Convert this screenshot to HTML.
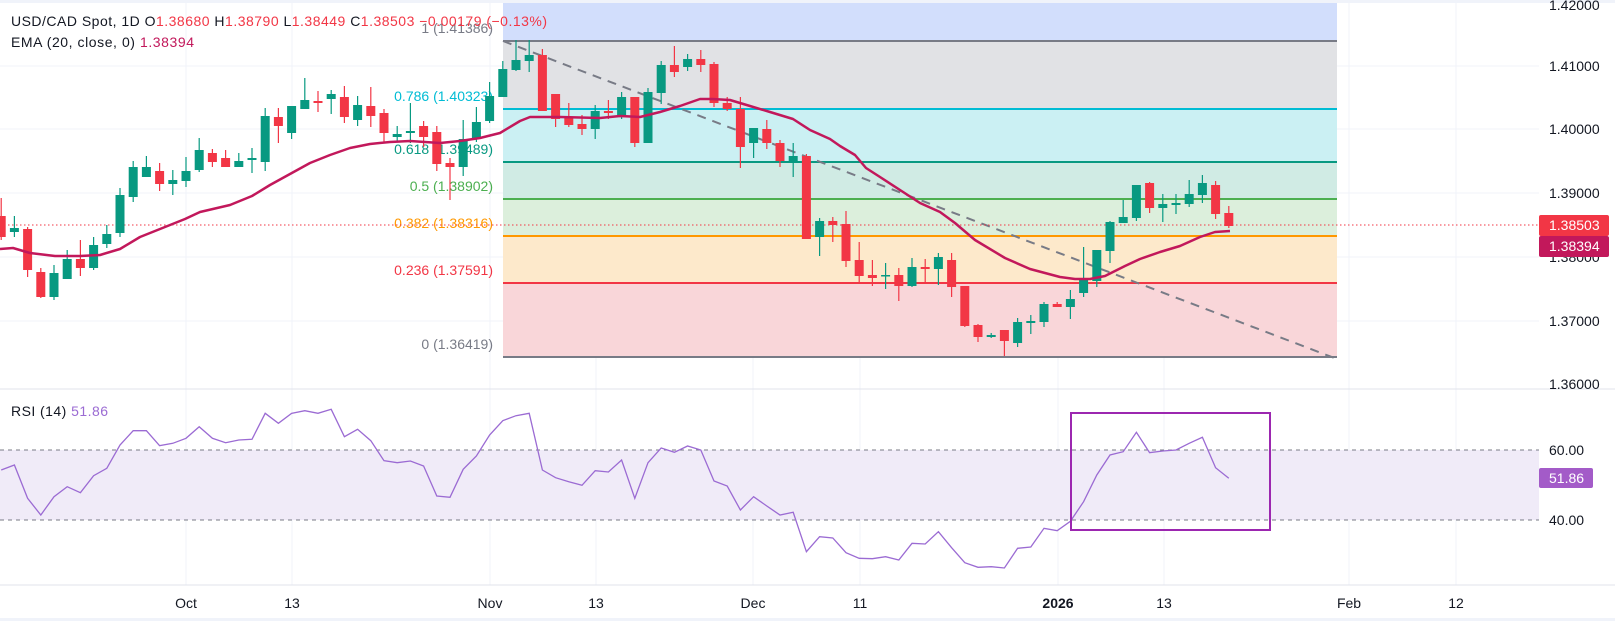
<!DOCTYPE html>
<html><head><meta charset="utf-8"><style>
html,body{margin:0;padding:0;background:#fff;}
svg{display:block;font-family:"Liberation Sans",sans-serif;}
</style></head><body>
<svg id="c" width="1615" height="621" viewBox="0 0 1615 621" xmlns="http://www.w3.org/2000/svg">
<rect x="0" y="0" width="1615" height="621" fill="#fff"/>
<rect x="0" y="0" width="1615" height="3" fill="#f0f3fa"/>
<g id="grid" stroke="#f0f3fa" stroke-width="1"></g>
<rect x="503" y="3" width="834" height="38" fill="#d2defc"/>
<rect x="503" y="41" width="834" height="68" fill="#e1e2e5"/>
<rect x="503" y="109" width="834" height="53" fill="#cbf0f3"/>
<rect x="503" y="162" width="834" height="37" fill="#d0ebe4"/>
<rect x="503" y="199" width="834" height="37" fill="#dcefdc"/>
<rect x="503" y="236" width="834" height="47" fill="#fde9cb"/>
<rect x="503" y="283" width="834" height="74" fill="#f9d6d9"/>
<g stroke-width="2">
<line x1="503" y1="41" x2="1337" y2="41" stroke="#787b86"/>
<line x1="503" y1="109" x2="1337" y2="109" stroke="#00bcd4"/>
<line x1="503" y1="162" x2="1337" y2="162" stroke="#089981"/>
<line x1="503" y1="199" x2="1337" y2="199" stroke="#4caf50"/>
<line x1="503" y1="236" x2="1337" y2="236" stroke="#ff9800"/>
<line x1="503" y1="283" x2="1337" y2="283" stroke="#f23645"/>
<line x1="503" y1="357" x2="1337" y2="357" stroke="#787b86"/>
</g>
<g font-size="14" text-anchor="end">
<text x="493" y="33" fill="#787b86">1 (1.41386)</text>
<text x="493" y="101" fill="#00bcd4">0.786 (1.40323)</text>
<text x="493" y="154" fill="#089981">0.618 (1.39489)</text>
<text x="493" y="191" fill="#4caf50">0.5 (1.38902)</text>
<text x="493" y="228" fill="#ff9800">0.382 (1.38316)</text>
<text x="493" y="275" fill="#f23645">0.236 (1.37591)</text>
<text x="493" y="349" fill="#787b86">0 (1.36419)</text>
</g>
<line x1="503" y1="41" x2="1337" y2="359" stroke="#787b86" stroke-width="2" stroke-dasharray="9,7"/>
<line x1="0" y1="225" x2="1539" y2="225" stroke="#f23645" stroke-width="1" stroke-dasharray="1.5,2.5"/>
<g id="candles"></g>
<polyline id="ema" fill="none" stroke="#c2185b" stroke-width="2.5" stroke-linejoin="round"/>
<line x1="0" y1="389" x2="1615" y2="389" stroke="#e0e3eb" stroke-width="1"/>
<line x1="0" y1="585" x2="1615" y2="585" stroke="#e0e3eb" stroke-width="1"/>
<rect x="0" y="618" width="1615" height="3" fill="#f0f3fa"/>
<rect x="0" y="450" width="1539" height="70" fill="#f0ebf8"/>
<line x1="0" y1="450" x2="1539" y2="450" stroke="#787b86" stroke-dasharray="4,4"/>
<line x1="0" y1="520" x2="1539" y2="520" stroke="#787b86" stroke-dasharray="4,4"/>
<polyline id="rsi" fill="none" stroke="#9b6bd3" stroke-width="1.3"/>
<rect x="1071" y="413" width="199" height="117" fill="none" stroke="#9c27b0" stroke-width="2"/>
<g font-size="14" fill="#131722">
<text x="1549" y="10">1.42000</text>
<text x="1549" y="71">1.41000</text>
<text x="1549" y="134">1.40000</text>
<text x="1549" y="198">1.39000</text>
<text x="1549" y="262">1.38000</text>
<text x="1549" y="326">1.37000</text>
<text x="1549" y="389">1.36000</text>
<text x="1549" y="455">60.00</text>
<text x="1549" y="525">40.00</text>
</g>
<rect x="1539" y="215" width="70" height="21" fill="#f23645" rx="2"/>
<text x="1549" y="230" font-size="14" fill="#fff">1.38503</text>
<rect x="1539" y="236" width="70" height="21" fill="#c2185b" rx="2"/>
<text x="1549" y="251" font-size="14" fill="#fff">1.38394</text>
<rect x="1539" y="468" width="54" height="20" fill="#a35bc8" rx="2"/>
<text x="1549" y="483" font-size="14" fill="#fff">51.86</text>
<g font-size="14" fill="#131722" text-anchor="middle">
<text x="186" y="608">Oct</text>
<text x="292" y="608">13</text>
<text x="490" y="608">Nov</text>
<text x="596" y="608">13</text>
<text x="753" y="608">Dec</text>
<text x="860" y="608">11</text>
<text x="1058" y="608" font-weight="bold">2026</text>
<text x="1164" y="608">13</text>
<text x="1349" y="608">Feb</text>
<text x="1456" y="608">12</text>
</g>
<g font-size="14" xml:space="preserve" style="white-space:pre">
<text x="11" y="26" fill="#131722" textLength="536" lengthAdjust="spacing">USD/CAD Spot, 1D  O<tspan fill="#f23645">1.38680</tspan>  H<tspan fill="#f23645">1.38790</tspan>  L<tspan fill="#f23645">1.38449</tspan>  C<tspan fill="#f23645">1.38503</tspan>  <tspan fill="#f23645">−0.00179 (−0.13%)</tspan></text>
<text x="11" y="47" fill="#131722" textLength="183" lengthAdjust="spacing">EMA (20, close, 0)  <tspan fill="#c2185b">1.38394</tspan></text>
<text x="11" y="416" fill="#131722" textLength="97" lengthAdjust="spacing">RSI (14)  <tspan fill="#9b6bd3">51.86</tspan></text>
</g>
</svg>
<script>
(function(){
var NS="http://www.w3.org/2000/svg";
function X(i){return 186+13.2*(i-14);}
var g=document.getElementById('grid');
[66,129,193,257,321].forEach(function(y){var l=document.createElementNS(NS,'line');l.setAttribute('x1',0);l.setAttribute('x2',1539);l.setAttribute('y1',y);l.setAttribute('y2',y);g.appendChild(l);});
[186,292,490,596,753,860,1058,1164,1349,1456].forEach(function(x){var l=document.createElementNS(NS,'line');l.setAttribute('x1',x);l.setAttribute('x2',x);l.setAttribute('y1',3);l.setAttribute('y2',585);g.appendChild(l);});
var C=[
['r',216,237,198,240],['g',228,232,216,237],['r',229,270,227,277],['r',272,297,268,298],['g',273,297,265,300],
['g',259,279,250,279],['r',259,268,240,276],['g',245,268,237,270],['g',234,244,225,248],['g',195,233,188,237],
['g',167,197,161,202],['g',167,177,156,177],['r',171,184,163,191],['g',180,184,170,195],['g',171,181,157,187],
['g',150,170,138,172],['r',153,162,149,167],['r',158,167,150,167],['g',161,167,153,167],['g',158,160,148,173],
['g',116,162,108,171],['r',117,126,108,143],['g',106,133,106,139],['g',100,109,78,109],['r',101,103,91,112],
['g',94,99,90,114],['r',97,117,86,123],['g',105,120,96,126],['r',106,116,87,127],['r',113,133,109,142],
['g',134,137,126,142],['g',131,133,103,143],['r',126,137,121,147],['r',132,164,126,171],['r',163,167,158,200],
['g',139,167,120,176],['g',122,139,107,142],['g',96,121,82,123],['g',69,97,61,97],['g',60,70,40,71],
['g',55,61,40,72],['r',55,111,49,111],['r',94,119,94,127],['r',118,125,103,127],['r',124,129,115,135],
['g',111,129,105,139],['r',111,113,100,119],['g',97,117,92,119],['r',97,143,97,147],['g',92,143,88,143],
['g',65,93,61,104],['r',65,72,46,77],['g',59,67,54,71],['r',59,65,50,72],['r',64,103,62,107],
['r',103,109,97,111],['r',109,147,97,168],['g',128,143,128,158],['r',129,143,120,149],['r',143,161,140,167],
['g',156,162,143,177],['r',156,239,154,239],['g',221,237,218,256],['r',221,225,217,242],['r',224,261,211,267],
['r',260,276,242,282],['r',275,278,260,286],['g',275,276,263,289],['r',275,286,268,301],['g',267,286,258,287],
['r',267,269,259,282],['g',257,269,253,285],['r',260,287,253,297],['r',286,326,286,327],['r',325,337,324,342],
['g',335,337,333,338],['r',330,341,330,356],['g',322,343,318,347],['g',321,323,315,334],['g',304,322,302,327],
['r',304,307,302,307],['g',299,307,290,319],['g',280,293,247,297],['g',250,281,250,287],['g',222,251,221,263],
['g',217,223,200,223],['g',185,218,185,221],['r',183,208,182,213],['g',204,208,194,222],['g',203,205,194,214],
['g',194,204,180,207],['g',183,195,175,203],['r',185,214,181,219],['r',213,226,206,228]];
var cg=document.getElementById('candles');
C.forEach(function(c,i){var x=X(i);var col=c[0]=='g'?'#089981':'#f23645';
var w=document.createElementNS(NS,'line');w.setAttribute('x1',x);w.setAttribute('x2',x);w.setAttribute('y1',c[3]);w.setAttribute('y2',c[4]);w.setAttribute('stroke',col);w.setAttribute('stroke-width',1.2);cg.appendChild(w);
var r=document.createElementNS(NS,'rect');var h=Math.max(c[2]-c[1],1.5);r.setAttribute('x',x-4.5);r.setAttribute('y',c[1]);r.setAttribute('width',9);r.setAttribute('height',h);r.setAttribute('fill',col);cg.appendChild(r);});
var E=[[0,249],[13,248],[30,253],[55,256],[80,256],[100,255],[120,249],[140,237],[160,229],[185,219],[200,212],[230,205],[252,196],[270,185],[290,174],[310,163],[330,155],[350,148],[370,144],[390,142],[410,141],[425,142],[440,143],[460,141],[480,138],[500,133],[520,121],[530,117],[560,117],[600,118],[620,116],[640,117],[660,112],[680,106],[700,99],[712,99],[730,100],[750,106],[770,112],[793,119],[810,130],[830,139],[840,146],[855,155],[866,168],[880,177],[900,190],[920,203],[940,212],[955,223],[975,240],[1005,258],[1030,269],[1060,277],[1075,279],[1090,279],[1105,276],[1125,266],[1140,259],[1160,252],[1180,246],[1200,237],[1215,232],[1230,231]];
document.getElementById('ema').setAttribute('points',E.map(function(p){return p.join(',')}).join(' '));
var R1=[270,255,355,405,350,320,338,287,265,195,152,152,197,190,175,140,175,188,180,178,100,130,100,92,100,88,170,148,182,242,248,243,258,348,352,268,228,165,122,107,100,270,293,305,316,272,276,240,355,248,204,217,198,210,303,318,390,350,378,405,397];
var R2=[515,470,474,518,535,536,530,540,490,492,455,503,548,562,560,564,505,501,445,452,424,365,285,225,215,157,218,213,210,190,172,263,295];
var pts=[];R1.forEach(function(v,i){pts.push(X(i).toFixed(1)+','+(380+v/3).toFixed(1));});
R2.forEach(function(v,j){pts.push(X(61+j).toFixed(1)+','+(380+v/3).toFixed(1));});
document.getElementById('rsi').setAttribute('points',pts.join(' '));
})();
</script>
</body></html>
